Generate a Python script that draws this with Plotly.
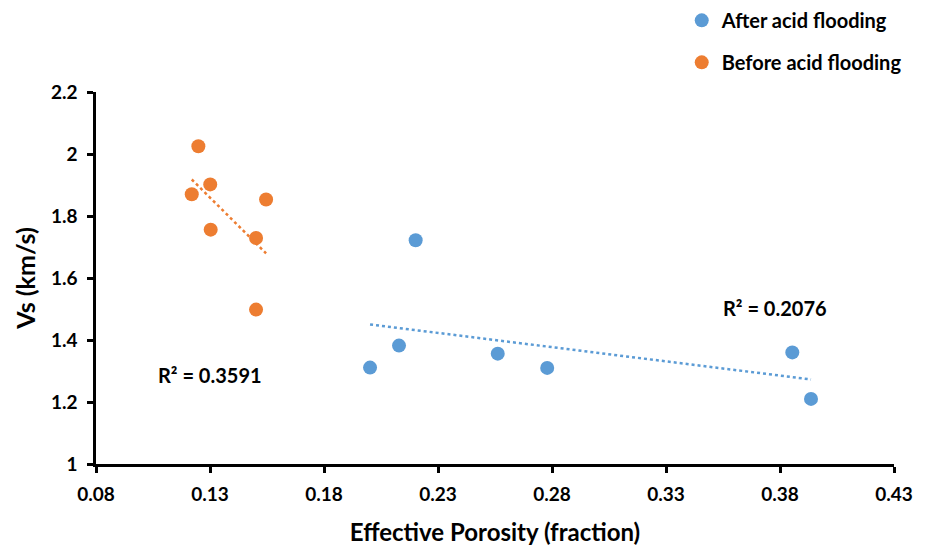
import numpy as np
import plotly.graph_objects as go

# Data
after_x = [0.2202, 0.2129, 0.2002, 0.2562, 0.2779, 0.3854, 0.3936]
after_y = [1.722, 1.382, 1.311, 1.356, 1.310, 1.360, 1.210]
before_x = [0.1249, 0.1301, 0.1220, 0.1546, 0.1303, 0.1502, 0.1502]
before_y = [2.025, 1.902, 1.870, 1.853, 1.756, 1.729, 1.498]
x_ticks = [0.08, 0.13, 0.18, 0.23, 0.28, 0.33, 0.38, 0.43]
y_ticks = [1, 1.2, 1.4, 1.6, 1.8, 2, 2.2]
r2_after = "R² = 0.2076"
r2_before = "R² = 0.3591"

BLUE = "#5B9BD5"
ORANGE = "#ED7D31"
FONT = "Lato"

def trend(xs, ys):
    m, b = np.polyfit(xs, ys, 1)
    xx = np.array([min(xs), max(xs)])
    return xx, m * xx + b

fig = go.Figure()
fig.add_trace(go.Scatter(x=after_x, y=after_y, mode="markers", name="<b>After acid flooding</b>",
                         legendgroup="a", marker=dict(color=BLUE, size=14)))
fig.add_trace(go.Scatter(x=before_x, y=before_y, mode="markers", name="<b>Before acid flooding</b>",
                         legendgroup="b", marker=dict(color=ORANGE, size=14)))
tx, ty = trend(after_x, after_y)
fig.add_trace(go.Scatter(x=tx, y=ty, mode="lines", showlegend=False, hoverinfo="skip",
                         line=dict(color=BLUE, width=2.5, dash="dot")))
tx, ty = trend(before_x, before_y)
fig.add_trace(go.Scatter(x=tx, y=ty, mode="lines", showlegend=False, hoverinfo="skip",
                         line=dict(color=ORANGE, width=2.5, dash="dot")))

fig.add_annotation(x=0.3778, y=1.502, text="<b>" + r2_after + "</b>", showarrow=False,
                   font=dict(family=FONT, size=20, color="black"))
fig.add_annotation(x=0.130, y=1.2865, text="<b>" + r2_before + "</b>", showarrow=False,
                   font=dict(family=FONT, size=20, color="black"))

axis_common = dict(showgrid=False, zeroline=False, showline=True, linecolor="black", linewidth=2.5,
                   ticks="outside", tickcolor="black", tickwidth=2.5, ticklen=6, automargin=False,
                   tickfont=dict(family=FONT, size=19, color="black"))
fig.update_xaxes(range=[0.08, 0.43], tickvals=x_ticks, ticktext=[f"<b>{v:.2f}</b>" for v in x_ticks],
                 ticklabelstandoff=5,
                 title=dict(text="<b>Effective Porosity (fraction)</b>", font=dict(family=FONT, size=24, color="black"), standoff=21),
                 **axis_common)
fig.update_yaxes(range=[1, 2.2], tickvals=y_ticks, ticktext=[f"<b>{v:g}</b>" for v in y_ticks],
                 ticklabelstandoff=6,
                 title=dict(text="<b>Vs (km/s)</b>", font=dict(family=FONT, size=25, color="black"), standoff=9),
                 **axis_common)

fig.update_layout(
    width=930, height=547,
    margin=dict(l=88, r=44, t=84, b=91, autoexpand=False),
    plot_bgcolor="white", paper_bgcolor="white",
    font=dict(family=FONT, color="black"),
    legend=dict(x=0.734, y=1.245, xanchor="left", yanchor="top", tracegroupgap=13,
                font=dict(family=FONT, size=20, color="black"), itemwidth=30,
                bgcolor="rgba(0,0,0,0)"),
)

fig.write_html("out.html")
